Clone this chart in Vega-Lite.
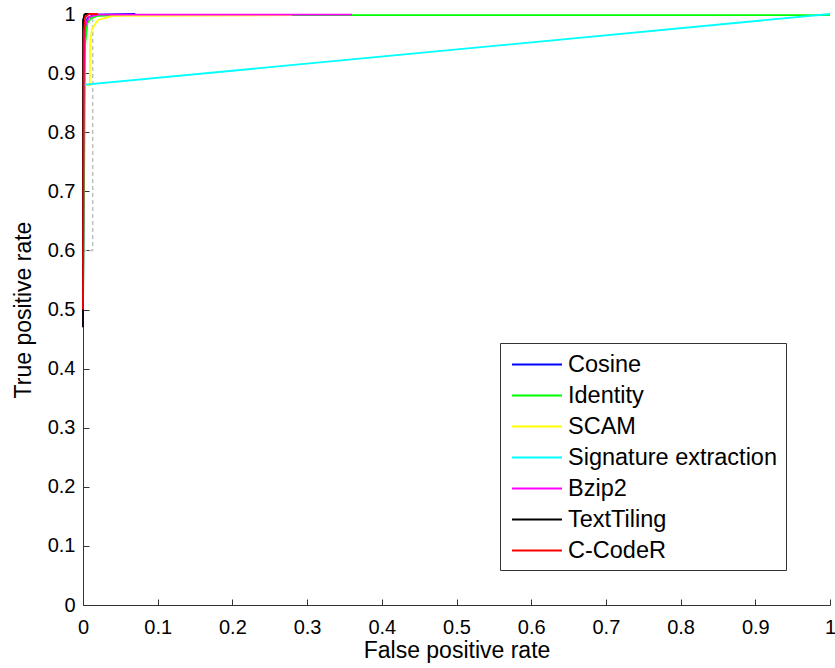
{
  "$schema": "https://vega.github.io/schema/vega-lite/v6.json",
  "autosize": "none",
  "width": 747,
  "height": 591,
  "padding": {"left": 83, "top": 14, "right": 5, "bottom": 63},
  "background": "white",
  "config": {
    "view": {"stroke": null},
    "font": "Liberation Sans",
    "axis": {
      "grid": false,
      "domainColor": "#333333",
      "tickColor": "#333333",
      "tickSize": -6,
      "labelFont": "Liberation Sans",
      "labelFontSize": 20,
      "labelColor": "#000000",
      "labelFontWeight": "normal",
      "titleFont": "Liberation Sans",
      "titleFontSize": 23,
      "titleFontWeight": "normal",
      "titleColor": "#000000",
      "labelFlush": false,
      "labelOverlap": false
    },
    "legend": {
      "orient": "none",
      "legendX": 417,
      "legendY": 329,
      "strokeColor": "#333333",
      "fillColor": "white",
      "padding": 8,
      "symbolType": "M-2,0H2",
      "symbolSize": 625,
      "symbolStrokeWidth": 2,
      "symbolOffset": 15.5,
      "labelOffset": 17.5,
      "labelFont": "Liberation Sans",
      "labelFontSize": 23.5,
      "labelColor": "#000000",
      "rowPadding": 6,
      "labelLimit": 400
    }
  },
  "layer": [
    {
      "data": {"values": [
        {"fpr": 0, "tpr": 0.6},
        {"fpr": 0.013, "tpr": 0.6},
        {"fpr": 0.013, "tpr": 1}
      ]},
      "mark": {"type": "line", "color": "#c0c0c0", "strokeDash": [4, 3], "strokeWidth": 1.5, "clip": false},
      "encoding": {
        "x": {"field": "fpr", "type": "quantitative"},
        "y": {"field": "tpr", "type": "quantitative"}
      }
    },
    {
      "data": {"values": [
        {"method": "Cosine", "o": 1, "fpr": 0, "tpr": 0.5},
        {"method": "Cosine", "o": 2, "fpr": 0.002, "tpr": 0.97},
        {"method": "Cosine", "o": 3, "fpr": 0.006, "tpr": 0.993},
        {"method": "Cosine", "o": 4, "fpr": 0.015, "tpr": 0.999},
        {"method": "Cosine", "o": 5, "fpr": 0.07, "tpr": 1},
        {"method": "Identity", "o": 1, "fpr": 0, "tpr": 0.5},
        {"method": "Identity", "o": 2, "fpr": 0.003, "tpr": 0.95},
        {"method": "Identity", "o": 3, "fpr": 0.006, "tpr": 0.985},
        {"method": "Identity", "o": 4, "fpr": 0.011, "tpr": 0.993},
        {"method": "Identity", "o": 5, "fpr": 0.02, "tpr": 0.997},
        {"method": "Identity", "o": 6, "fpr": 0.05, "tpr": 0.998},
        {"method": "Identity", "o": 7, "fpr": 1, "tpr": 0.998},
        {"method": "SCAM", "o": 1, "fpr": 0, "tpr": 0.5},
        {"method": "SCAM", "o": 2, "fpr": 0, "tpr": 0.88},
        {"method": "SCAM", "o": 3, "fpr": 0.009, "tpr": 0.88},
        {"method": "SCAM", "o": 4, "fpr": 0.0095, "tpr": 0.95},
        {"method": "SCAM", "o": 5, "fpr": 0.012, "tpr": 0.975},
        {"method": "SCAM", "o": 6, "fpr": 0.02, "tpr": 0.99},
        {"method": "SCAM", "o": 7, "fpr": 0.04, "tpr": 0.997},
        {"method": "SCAM", "o": 8, "fpr": 0.28, "tpr": 0.998},
        {"method": "Signature extraction", "o": 1, "fpr": 0, "tpr": 0.5},
        {"method": "Signature extraction", "o": 2, "fpr": 0, "tpr": 0.88},
        {"method": "Signature extraction", "o": 3, "fpr": 1, "tpr": 1},
        {"method": "Bzip2", "o": 1, "fpr": 0, "tpr": 0.47},
        {"method": "Bzip2", "o": 2, "fpr": 0.001, "tpr": 0.9},
        {"method": "Bzip2", "o": 3, "fpr": 0.003, "tpr": 0.98},
        {"method": "Bzip2", "o": 4, "fpr": 0.008, "tpr": 0.995},
        {"method": "Bzip2", "o": 5, "fpr": 0.02, "tpr": 0.999},
        {"method": "Bzip2", "o": 6, "fpr": 0.36, "tpr": 0.999},
        {"method": "TextTiling", "o": 1, "fpr": 0, "tpr": 0.47},
        {"method": "TextTiling", "o": 2, "fpr": 0, "tpr": 0.99},
        {"method": "TextTiling", "o": 3, "fpr": 0.003, "tpr": 1},
        {"method": "TextTiling", "o": 4, "fpr": 0.01, "tpr": 1},
        {"method": "C-CodeR", "o": 1, "fpr": 0, "tpr": 0.5},
        {"method": "C-CodeR", "o": 2, "fpr": 0.001, "tpr": 0.97},
        {"method": "C-CodeR", "o": 3, "fpr": 0.003, "tpr": 0.995},
        {"method": "C-CodeR", "o": 4, "fpr": 0.008, "tpr": 1},
        {"method": "C-CodeR", "o": 5, "fpr": 0.02, "tpr": 1}
      ]},
      "mark": {"type": "line", "strokeWidth": 1.8, "clip": false},
      "encoding": {
        "x": {
          "field": "fpr", "type": "quantitative",
          "scale": {"domain": [0, 1], "nice": false},
          "axis": {"title": "False positive rate", "values": [0,0.1,0.2,0.3,0.4,0.5,0.6,0.7,0.8,0.9,1], "format": "~g", "labelPadding": 18, "titlePadding": 2}
        },
        "y": {
          "field": "tpr", "type": "quantitative",
          "scale": {"domain": [0, 1], "nice": false},
          "axis": {"title": "True positive rate", "values": [0,0.1,0.2,0.3,0.4,0.5,0.6,0.7,0.8,0.9,1], "format": "~g", "labelPadding": 14, "titlePadding": 12}
        },
        "color": {
          "field": "method", "type": "nominal",
          "scale": {
            "domain": ["Cosine", "Identity", "SCAM", "Signature extraction", "Bzip2", "TextTiling", "C-CodeR"],
            "range": ["#0000ff", "#00ff00", "#ffff00", "#00ffff", "#ff00ff", "#000000", "#ff0000"]
          },
          "legend": {"title": null}
        },
        "order": {"field": "o", "type": "quantitative"}
      }
    }
  ]
}
